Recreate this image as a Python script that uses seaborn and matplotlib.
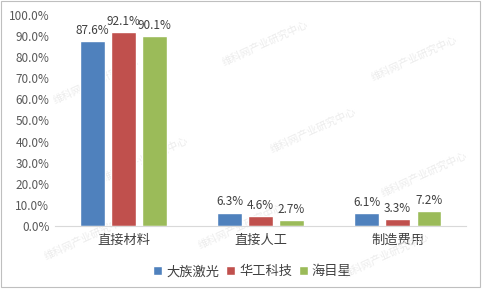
import matplotlib
matplotlib.use("Agg")
import matplotlib.pyplot as plt
import seaborn as sns
import pandas as pd
from matplotlib.patches import Rectangle

categories = ["直接材料", "直接人工", "制造费用"]
companies = ["大族激光", "华工科技", "海目星"]
dazu = [87.6, 6.3, 6.1]
huagong = [92.1, 4.6, 3.3]
haimuxing = [90.1, 2.7, 7.2]
colors = ["#4F81BD", "#C0504D", "#9BBB59"]
yticks = [0, 10, 20, 30, 40, 50, 60, 70, 80, 90, 100]

df = pd.DataFrame({
    "category": categories * 3,
    "company": [c for c in companies for _ in categories],
    "value": dazu + huagong + haimuxing,
})

sns.set_theme(style="white")
plt.rcParams["font.family"] = ["Noto Sans CJK SC", "DejaVu Sans"]

fig = plt.figure(figsize=(4.82, 2.9), dpi=100)
ax = fig.add_axes([0.114, 0.221, 0.853, 0.727])

# faint tiled watermark behind the bars
wm = "维科网产业研究中心"
wm_pos = [(0.20, 0.72), (0.55, 0.85), (0.86, 0.80),
          (0.30, 0.45), (0.65, 0.55), (0.88, 0.40),
          (0.18, 0.18), (0.50, 0.22), (0.80, 0.12)]
for x, y in wm_pos:
    ax.text(x, y, wm, rotation=25, fontsize=7.5, color="#ececec",
            ha="center", va="center", transform=fig.transFigure, zorder=1)

sns.barplot(data=df, x="category", y="value", hue="company",
            hue_order=companies, palette=colors, width=0.68, gap=0.22,
            saturation=1, ax=ax, zorder=2)

for cont in ax.containers:
    ax.bar_label(cont, fmt="%.1f%%", padding=3, fontsize=8.5, color="#404040")

ax.set_ylim(0, 100)
ax.set_xlim(-0.5, 2.5)
ax.set_yticks(yticks)
ax.set_yticklabels([f"{t:.1f}%" for t in yticks], fontsize=8.5, color="#595959")
ax.tick_params(axis="x", labelsize=9.5, colors="#404040", length=0, pad=6)
ax.tick_params(axis="y", length=0, pad=4)
ax.set_xlabel("")
ax.set_ylabel("")
for s in ["top", "right", "left"]:
    ax.spines[s].set_visible(False)
ax.spines["bottom"].set_color("#d9d9d9")
ax.spines["bottom"].set_linewidth(0.8)
ax.patch.set_alpha(0)

ax.legend(loc="upper center", bbox_to_anchor=(0.48, -0.13), ncol=3, frameon=False,
          fontsize=9.5, handlelength=0.7, handleheight=0.7, handletextpad=0.3,
          columnspacing=0.5, labelcolor="#404040")

fig.patches.append(Rectangle((0.002, 0.01), 0.994, 0.988, transform=fig.transFigure,
                             fill=False, edgecolor="#bfbfbf", linewidth=0.8))

fig.savefig("out.png", dpi=100)
